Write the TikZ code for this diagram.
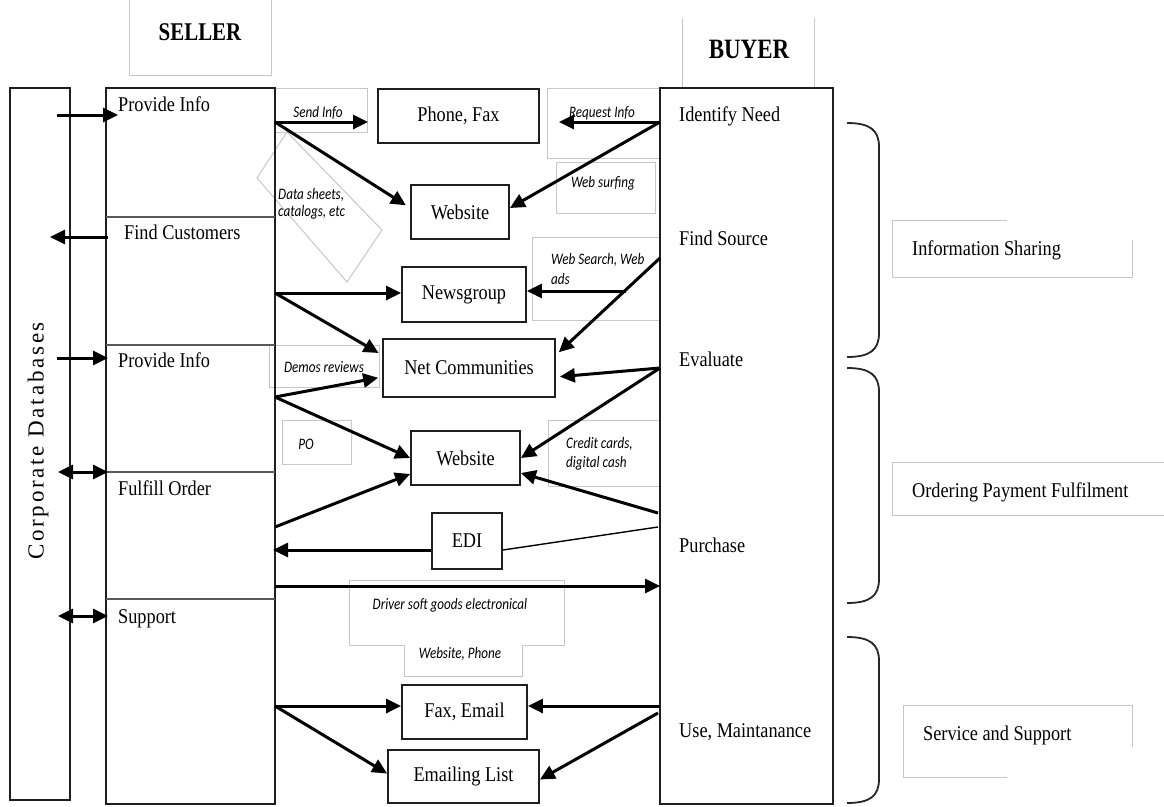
\documentclass[tikz,border=0pt]{standalone}
\usepackage{fontspec}
\setmainfont{Liberation Serif}[FakeStretch=0.87]
\newfontfamily\hdfont{Liberation Serif}[FakeStretch=0.82]
\newfontfamily\corpfont{Liberation Serif}[LetterSpace=12]
\newfontfamily\labfont{Carlito}[FakeStretch=0.82]
\usetikzlibrary{arrows.meta}
\tikzset{
  box/.style={draw=black!88, line width=1.8pt, inner sep=0pt, font=\fontsize{21}{24}\selectfont},
  gbox/.style={draw=black!22, line width=1pt},
  divider/.style={draw=black!65, line width=1.2pt},
  txt/.style={font=\fontsize{21}{24}\selectfont, inner sep=0pt, anchor=base west},
  hd/.style={font=\hdfont\bfseries, inner sep=0pt},
  lab/.style={font=\labfont\itshape\fontsize{16}{20}\selectfont, inner sep=0pt},
  arr/.style={draw=black, line width=3pt, -{Triangle[length=15pt,width=14pt]}},
  darr/.style={draw=black, line width=3pt, {Triangle[length=15pt,width=14pt]}-{Triangle[length=15pt,width=14pt]}},
  thinline/.style={draw=black, line width=1.4pt},
  brace/.style={draw=black!85, line width=1.8pt},
}
\begin{document}
\begin{tikzpicture}[x=1pt,y=-1pt]
\useasboundingbox (0,0) rectangle (1164,806);

% ---- light grey label frames ----
\draw[gbox] (129,0) -- (129,75) -- (271,75) -- (271,0);
\draw[gbox] (682,18) -- (682,88);
\draw[gbox] (814,18) -- (814,88);
\draw[gbox] (275,88) rectangle (367,132);
\draw[gbox] (257,178) -- (287,132) -- (382,230) -- (347,282) -- cycle;
\draw[gbox] (547,88) rectangle (660,158);
\draw[gbox] (556,162) rectangle (655,213);
\draw[gbox] (532,237) rectangle (660,320);
\draw[gbox] (269,345) rectangle (379,387);
\draw[gbox] (282,420) rectangle (351,464);
\draw[gbox] (548,420) rectangle (660,486);
\draw[gbox] (349,580) -- (564,580) -- (564,645) -- (522,645) -- (522,676) -- (404,676) -- (404,645) -- (349,645) -- cycle;
\draw[gbox] (1007,220) -- (892,220) -- (892,277) -- (1132,277) -- (1132,240);
\draw[gbox] (1170,462) -- (892,462) -- (892,515) -- (1170,515);
\draw[gbox] (1007,777) -- (903,777) -- (903,705) -- (1132,705) -- (1132,747);

% ---- headers ----
\node[hd, font=\hdfont\bfseries\fontsize{25.5}{28}\selectfont] (sellerhd) at (200,32) {SELLER};
\node[hd, font=\hdfont\bfseries\fontsize{28}{30}\selectfont] (buyerhd) at (749,49) {BUYER};

% ---- main columns ----
\node[box, minimum width=60, minimum height=712] (corp) at (40,444) {};
\node[rotate=90, inner sep=0pt, font=\corpfont\fontsize{23}{26}\selectfont] (corptext) at (38,441) {Corporate Databases};
\node[box, minimum width=169, minimum height=716] (seller) at (190.5,446) {};
\node[box, minimum width=173, minimum height=716] (buyer) at (746.5,446) {};

% seller dividers
\draw[divider] (106,217) -- (275,217);
\draw[divider] (106,345) -- (275,345);
\draw[divider] (106,472) -- (275,472);
\draw[divider] (106,599) -- (275,599);

% seller labels
\node[txt] (sl1) at (118,111) {Provide Info};
\node[txt] (sl2) at (124,239) {Find Customers};
\node[txt] (sl3) at (118,367) {Provide Info};
\node[txt] (sl4) at (118,495) {Fulfill Order};
\node[txt] (sl5) at (118,623) {Support};

% buyer labels
\node[txt] (bl1) at (679,121) {Identify Need};
\node[txt] (bl2) at (679,245) {Find Source};
\node[txt] (bl3) at (679,366) {Evaluate};
\node[txt] (bl4) at (679,552) {Purchase};
\node[txt] (bl5) at (679,737) {Use, Maintanance};

% ---- centre boxes ----
\node[box, minimum width=161, minimum height=54] (phone) at (458.5,116) {Phone, Fax};
\node[box, minimum width=98, minimum height=54] (web1) at (460,212) {Website};
\node[box, minimum width=124, minimum height=55] (news) at (464,294.5) {Newsgroup};
\node[box, minimum width=172, minimum height=58] (netc) at (469,368) {Net Communities};
\node[box, minimum width=109, minimum height=54] (web2) at (465.5,458) {Website};
\node[box, minimum width=70, minimum height=56] (edi) at (467,541) {EDI};
\node[box, minimum width=125, minimum height=54] (faxe) at (464.5,712) {Fax, Email};
\node[box, minimum width=151, minimum height=53] (elist) at (463.5,776.5) {Emailing List};

% ---- italic labels ----
\node[lab, anchor=base] (lsend) at (318,117) {Send Info};
\node[lab, anchor=base west] (ldata1) at (278,199) {Data sheets,};
\node[lab, anchor=base west] (ldata2) at (278,216) {catalogs, etc};
\node[lab, anchor=base] (lreq) at (602,117) {Request Info};
\node[lab, anchor=base] (lsurf) at (603,187) {Web surfing};
\node[lab, anchor=base west] (lsearch1) at (551,264) {Web Search, Web};
\node[lab, anchor=base west] (lsearch2) at (551,284) {ads};
\node[lab, anchor=base] (ldemo) at (324,372) {Demos reviews};
\node[lab, anchor=base] (lpo) at (306,449) {PO};
\node[lab, anchor=base west] (lcc1) at (566,448) {Credit cards,};
\node[lab, anchor=base west] (lcc2) at (566,467) {digital cash};
\node[lab, anchor=base] (ldriver) at (450,609) {Driver soft goods electronical};
\node[lab, anchor=base] (lwp) at (460,658) {Website, Phone};

% ---- right side groups ----
\node[txt] (g1) at (912,255) {Information Sharing};
\node[txt] (g2) at (912,497) {Ordering Payment Fulfilment};
\node[txt] (g3) at (923,740) {Service and Support};
\draw[brace] (847,123) .. controls (870,123) and (879,130) .. (879,147) -- (879,333) .. controls (879,350) and (870,357) .. (847,357);
\draw[brace] (847,368) .. controls (870,368) and (879,375) .. (879,392) -- (879,579) .. controls (879,596) and (870,603) .. (847,603);
\draw[brace] (847,637) .. controls (870,637) and (879,644) .. (879,661) -- (879,779) .. controls (879,796) and (870,803) .. (847,803);

% ---- connector end points ----
\coordinate (k1) at (57,115);  \coordinate (k1e) at (118,115);
\coordinate (f1) at (108,237); \coordinate (f2) at (50,237);
\coordinate (k2) at (57,358);  \coordinate (k2e) at (108,358);
\coordinate (k3) at (58,472);  \coordinate (k3e) at (108,472);
\coordinate (k4) at (58,616);  \coordinate (k4e) at (108,616);
\coordinate (sA) at (275,122);
\coordinate (sB) at (275,293);
\coordinate (sC) at (275,397);
\coordinate (sD) at (275,527);
\coordinate (sE) at (273,550);
\coordinate (sF) at (275,586);
\coordinate (sG) at (275,706);
\coordinate (bA) at (660,122);
\coordinate (bB) at (660,258);
\coordinate (bC) at (626,291);
\coordinate (bD) at (660,368);
\coordinate (bE) at (658,513);
\coordinate (bF) at (658,527);
\coordinate (bG) at (660,586);
\coordinate (bH) at (660,706);
\coordinate (bI) at (658,713);

% ---- database arrows ----
\draw[arr] (k1) -- (k1e);
\draw[arr] (f1) -- (f2);
\draw[arr] (k2) -- (k2e);
\draw[darr] (k3) -- (k3e);
\draw[darr] (k4) -- (k4e);

% ---- channel arrows ----
\draw[arr, shorten >=9pt] (sA) -- (sA -| phone.west);
\draw[arr, shorten >=5pt] (sA) -- ([yshift=4pt]web1.west);
\draw[arr, shorten >=19pt] (bA) -- (bA -| phone.east);
\draw[arr] (bA) -- ([yshift=4pt]web1.east);
\draw[arr] (sB) -- (sB -| news.west);
\draw[arr, shorten >=4pt] (sB) -- ([yshift=13pt]netc.west);
\draw[arr, shorten >=4pt] (sC) -- ([yshift=-9pt]netc.west);
\draw[arr] (sC) -- (web2.west);
\draw[arr] (sD) -- ([yshift=-16pt]web2.west);
\draw[arr, shorten >=4pt] (bB) -- ([yshift=13pt]netc.east);
\draw[arr] (bC) -- (bC -| news.east);
\draw[arr, shorten >=4pt] (bD) -- ([yshift=-9pt]netc.east);
\draw[arr] (bD) -- (web2.east);
\draw[arr] (bE) -- ([yshift=-15pt]web2.east);
\draw[thinline] (bF) -- ([yshift=-9pt]edi.east);
\draw[arr] ([yshift=-9pt]edi.west) -- (sE);
\draw[arr] (sF) -- (bG);
\draw[arr] (sG) -- (sG -| faxe.west);
\draw[arr] (sG) -- ([yshift=3pt]elist.west);
\draw[arr] (bH) -- (bH -| faxe.east);
\draw[arr] (bI) -- ([yshift=-3pt]elist.east);
\end{tikzpicture}
\end{document}
